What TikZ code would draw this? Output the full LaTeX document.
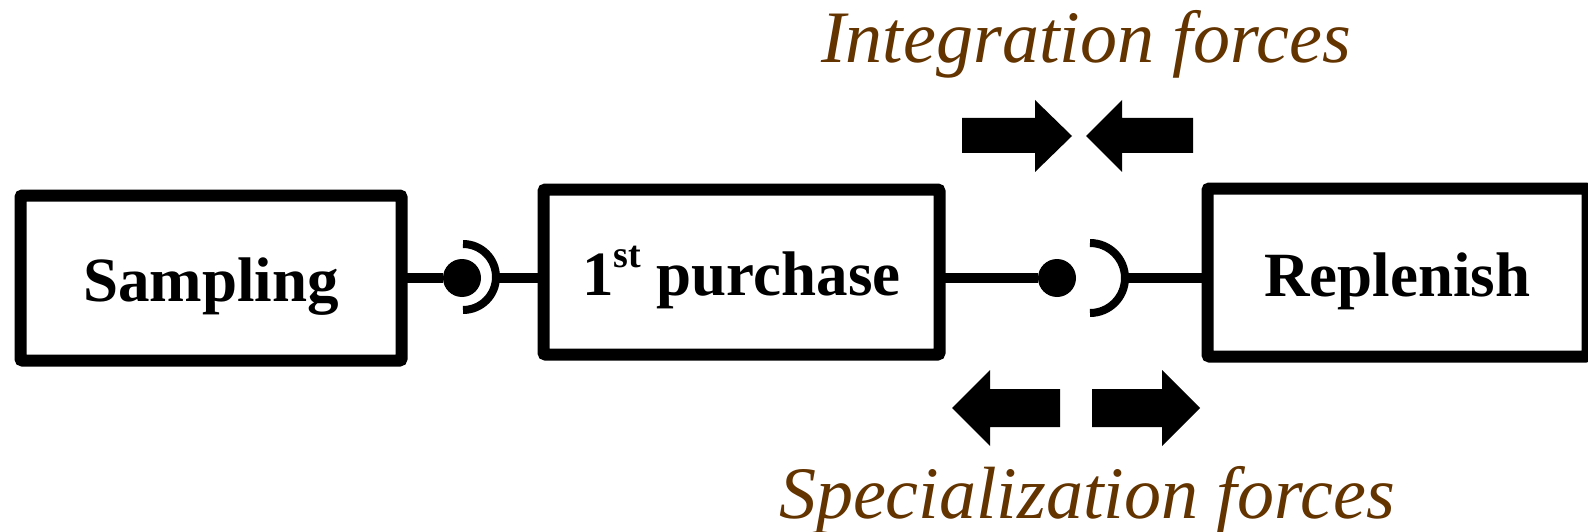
\documentclass[tikz,border=0pt]{standalone}
\usepackage{fontspec}
\setmainfont{Liberation Serif}
\usetikzlibrary{arrows}
\definecolor{c633300}{RGB}{99,51,0}

\begin{document}
\begin{tikzpicture}[y=1pt, x=1pt, yscale=-1, inner sep=0pt, outer sep=0pt,
  unit/.style={draw=black, line width=12pt, rounded corners=2pt, text height=47pt,
    text depth=0pt, font=\fontsize{63}{70}\selectfont\bfseries},
  link/.style={draw=black, line width=10.5pt},
  ball/.style={circle, fill=black, minimum size=38pt},
  socket/.style={draw=black, line width=8pt},
  force/.style={anchor=base, text=c633300, font=\fontsize{74}{80}\selectfont\itshape},
  block/.style={fill=black}]
  \useasboundingbox (0,0) rectangle (1588,532);
  \node[unit, minimum width=381pt, minimum height=165pt] (sampling) at (211,278) {Sampling};
  \node[unit, minimum width=396pt, minimum height=165pt] (purchase) at (741.5,272)
    {1\raisebox{28pt}{\fontsize{38}{38}\selectfont st} purchase};
  \node[unit, minimum width=380pt, minimum height=168pt] (replenish) at (1397.5,272.5) {Replenish};
  \node[ball] (ball1) at (462,278) {};
  \node[ball] (ball2) at (1057,278) {};
  \coordinate (socket1) at (496,278);
  \coordinate (socket2) at (1125,278);
  \path[link] (sampling.east |- ball1) -- (ball1);
  \path[socket] (socket1) ++(-33,-34) arc(-90:90:33);
  \path[link] (socket1) -- (purchase.west |- socket1);
  \path[link] (purchase.east |- ball2) -- (ball2);
  \path[socket] (socket2) ++(-35,-35) arc(-90:90:35);
  \path[link] (socket2) -- (replenish.west |- socket2);
  \path[block] (962,118) -- (1035,118) -- (1035,100) -- (1072,136) -- (1035,172)
    -- (1035,153) -- (962,153) -- cycle;
  \path[block] (1193,118) -- (1122,118) -- (1122,100) -- (1086,136) -- (1122,172)
    -- (1122,153) -- (1193,153) -- cycle;
  \path[block] (1060,389) -- (990,389) -- (990,370) -- (952,408) -- (990,446)
    -- (990,427) -- (1060,427) -- cycle;
  \path[block] (1092,389) -- (1162,389) -- (1162,370) -- (1200,408) -- (1162,446)
    -- (1162,427) -- (1092,427) -- cycle;
  \node[force] (integration) at (1086,63) {Integration forces};
  \node[force] (specialization) at (1087,518) {Specialization forces};
\end{tikzpicture}
\end{document}
